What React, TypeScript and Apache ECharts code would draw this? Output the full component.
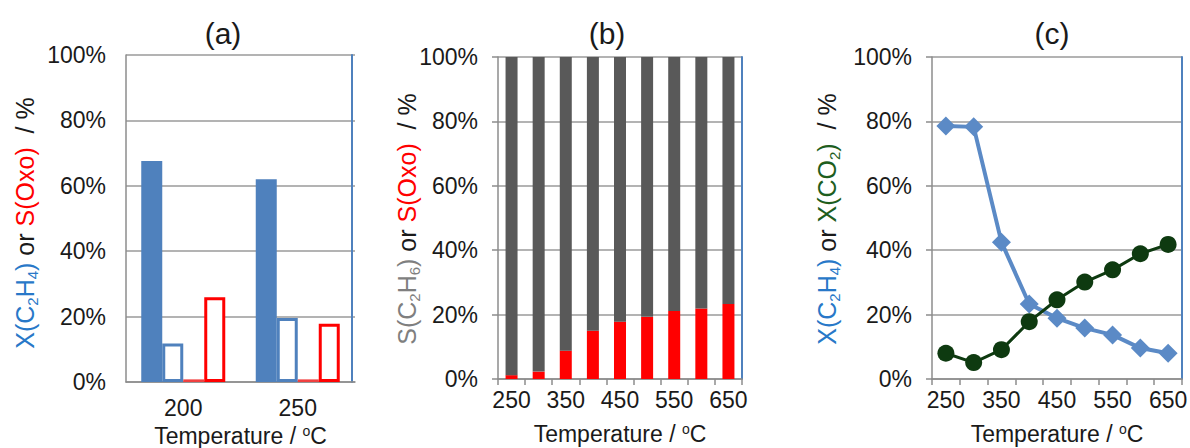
import React, { useEffect, useRef } from "react";
import * as echarts from "echarts";

const catsA = ["200", "250"];
const xFilledA = [67.6, 62.0];
const xOpenA = [11.8, 19.6];
const sFilledA = [0.8, 0.8];
const sOpenA = [25.9, 17.8];

const tempsBC = ["250", "300", "350", "400", "450", "500", "550", "600", "650"];
const sOxoB = [1.2, 2.3, 8.8, 15.0, 17.8, 19.3, 21.1, 21.9, 23.3];
const sC2H6B = sOxoB.map((v) => 100 - v);

const xC2H4C = [78.6, 78.3, 42.5, 23.3, 18.9, 15.8, 13.7, 9.6, 8.0];
const xCO2C = [8.0, 5.1, 9.1, 17.8, 24.6, 30.1, 33.9, 38.9, 41.8];

const yTicks = [0, 20, 40, 60, 80, 100];

const FONT = "'Liberation Sans', Arial, sans-serif";
const BLUE = "#4F81BD";
const RED = "#FF0000";
const DARK = "#595959";
const GREEN = "#0E3A10";
const GRIDC = "#9A9A9A";
const AXC = "#8C8C8C";
const TXT = "#1a1a1a";
const FS = 23;

export default function App() {
  const ref = useRef<HTMLDivElement>(null);
  useEffect(() => {
    if (!ref.current) return;
    const chart = echarts.init(ref.current, null, { renderer: "svg" });

    const grids = [
      { left: 126, top: 55, width: 229, height: 327, outerBoundsMode: "none", containLabel: false },
      { left: 498, top: 57, width: 244, height: 322, outerBoundsMode: "none", containLabel: false },
      { left: 932, top: 57, width: 250, height: 322, outerBoundsMode: "none", containLabel: false },
    ];

    const yLeft = (gi: number, ticks: boolean) => ({
      type: "value",
      gridIndex: gi,
      min: yTicks[0],
      max: yTicks[yTicks.length - 1],
      interval: 20,
      axisLine: { show: true, lineStyle: { color: AXC, width: 1.5 } },
      axisTick: { show: ticks, length: 6, lineStyle: { color: AXC, width: 1.5 } },
      axisLabel: {
        formatter: "{value}%",
        fontSize: FS,
        fontFamily: FONT,
        color: TXT,
        margin: 20,
      },
      splitLine: { show: true, lineStyle: { color: GRIDC, width: 1.5 } },
    });
    const yRight = (gi: number, off: number) => ({
      type: "value",
      gridIndex: gi,
      position: "right",
      offset: off,
      min: 0,
      max: 100,
      interval: 20,
      axisLine: { show: true, lineStyle: { color: BLUE, width: 2 } },
      axisTick: { show: false },
      axisLabel: { show: false },
      splitLine: { show: false },
    });
    const xName = (gap: number) => ({
      name: "Temperature / {s|o}C",
      nameLocation: "middle",
      nameGap: gap,
      nameTextStyle: {
        fontSize: FS,
        fontFamily: FONT,
        color: TXT,
        lineHeight: 24,
        rich: {
          s: { fontSize: 14, fontFamily: FONT, color: TXT, verticalAlign: "top", lineHeight: 14 },
        },
      },
    });
    const xCat = (gi: number, data: string[], ticks: boolean, labelInterval: number, margin: number, gap: number) => ({
      type: "category",
      gridIndex: gi,
      data,
      boundaryGap: true,
      axisLine: { show: true, lineStyle: { color: AXC, width: 1.5 } },
      axisTick: { show: ticks, interval: 0, length: 6, lineStyle: { color: AXC, width: 1.5 } },
      axisLabel: {
        interval: labelInterval,
        fontSize: FS,
        fontFamily: FONT,
        color: TXT,
        margin,
      },
      splitLine: { show: false },
      ...xName(gap),
    });

    const yLabel = (x: number, y: number, text: string, rich: any) => ({
      type: "text",
      x,
      y,
      rotation: Math.PI / 2,
      style: {
        text,
        rich,
        font: `25px ${FONT}`,
        align: "center",
        verticalAlign: "middle",
      },
    });
    const tok = (fill: string) => ({ fill, fontSize: 25, fontFamily: FONT, lineHeight: 30 });
    const sub = (fill: string) => ({ fill, fontSize: 15, fontFamily: FONT, lineHeight: 15, verticalAlign: "bottom" });
    const title = (x: number, text: string) => ({
      type: "text",
      x,
      y: 33,
      style: { text, font: `30px ${FONT}`, fill: TXT, align: "center", verticalAlign: "middle" },
    });

    const TB = "#2878C8";
    const TG = "#7F7F7F";
    const TGR = "#1E5E1E";

    chart.setOption({
      animation: false,
      grid: grids,
      xAxis: [
        xCat(0, catsA, false, 0, 14, 40),
        xCat(1, tempsBC, true, 1, 9, 43),
        xCat(2, tempsBC, true, 1, 9, 43),
      ],
      yAxis: [yLeft(0, false), yRight(0, -3), yLeft(1, true), yRight(1, 0), yLeft(2, true), yRight(2, 0)],
      graphic: [
        title(223, "(a)"),
        title(607, "(b)"),
        title(1052, "(c)"),
        yLabel(25, 223, "{b|X(C}{bs|2}{b|H}{bs|4}{b|)}{k| or }{r|S(Oxo)}{k|  / %}", {
          b: tok(TB), bs: sub(TB), k: tok(TXT), r: tok(RED),
        }),
        yLabel(407, 219, "{g|S(C}{gs|2}{g|H}{gs|6}{g|)}{k| or }{r|S(Oxo)}{k|  / %}", {
          g: tok(TG), gs: sub(TG), k: tok(TXT), r: tok(RED),
        }),
        yLabel(827, 219, "{b|X(C}{bs|2}{b|H}{bs|4}{b|)}{k| or }{g|X(CO}{gs|2}{g|)}{k|  / %}", {
          b: tok(TB), bs: sub(TB), k: tok(TXT), g: tok(TGR), gs: sub(TGR),
        }),
      ],
      series: [
        {
          type: "bar", xAxisIndex: 0, yAxisIndex: 0, data: xFilledA,
          barWidth: 21, barGap: "0%",
          itemStyle: { color: BLUE },
        },
        {
          type: "bar", xAxisIndex: 0, yAxisIndex: 0, data: xOpenA,
          barWidth: 21, barGap: "0%",
          itemStyle: { color: "#ffffff", borderColor: BLUE, borderWidth: 3 },
        },
        {
          type: "bar", xAxisIndex: 0, yAxisIndex: 0, data: sFilledA,
          barWidth: 21, barGap: "0%",
          itemStyle: { color: "#F04040" },
        },
        {
          type: "bar", xAxisIndex: 0, yAxisIndex: 0, data: sOpenA,
          barWidth: 21, barGap: "0%",
          itemStyle: { color: "#ffffff", borderColor: RED, borderWidth: 3 },
        },
        {
          type: "bar", xAxisIndex: 1, yAxisIndex: 2, data: sOxoB, stack: "b",
          barWidth: 12, itemStyle: { color: RED },
        },
        {
          type: "bar", xAxisIndex: 1, yAxisIndex: 2, data: sC2H6B, stack: "b",
          barWidth: 12, itemStyle: { color: DARK },
        },
        {
          type: "line", xAxisIndex: 2, yAxisIndex: 4, data: xC2H4C,
          symbol: "diamond", symbolSize: 19, showAllSymbol: true,
          lineStyle: { color: "#5B8AC6", width: 4 },
          itemStyle: { color: "#5B8AC6" },
        },
        {
          type: "line", xAxisIndex: 2, yAxisIndex: 4, data: xCO2C,
          symbol: "circle", symbolSize: 17, showAllSymbol: true,
          lineStyle: { color: GREEN, width: 3 },
          itemStyle: { color: GREEN },
        },
      ],
    });
    return () => chart.dispose();
  }, []);
  return (
    <div
      ref={ref}
      style={{ position: "absolute", left: 0, top: 0, width: 1190, height: 448, background: "#ffffff" }}
    />
  );
}
